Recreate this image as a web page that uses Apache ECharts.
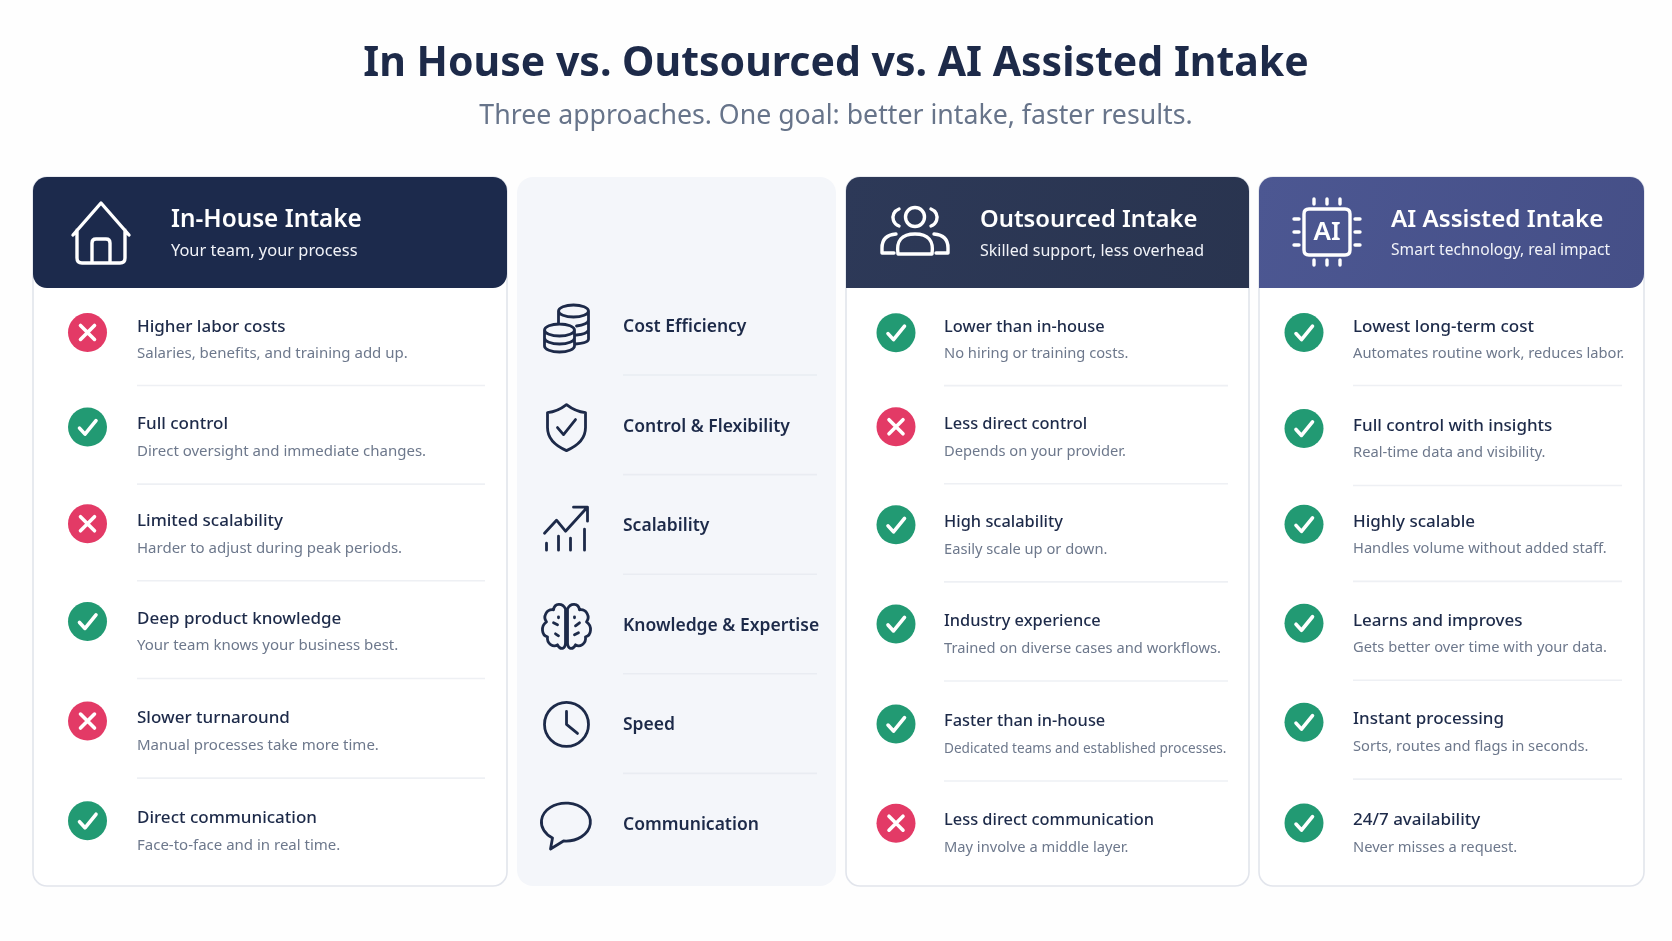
<!DOCTYPE html>
<html>
<head>
    <meta charset="utf-8">
    <title>In House vs. Outsourced vs. AI Assisted Intake</title>
    <script src="https://cdn.jsdelivr.net/npm/echarts@6/dist/echarts.min.js"></script>
    <style>
        html, body { margin: 0; padding: 0; background: #fefefe; }
        #main { width: 1672px; height: 941px; }
    </style>
</head>
<body>
    <div id="main"></div>
    <script>
        // chart text and values
        var pageTitle = 'In House vs. Outsourced vs. AI Assisted Intake';
        var pageSubtitle = 'Three approaches. One goal: better intake, faster results.';
        var criteria = ['Cost Efficiency', 'Control & Flexibility', 'Scalability', 'Knowledge & Expertise', 'Speed', 'Communication'];

        var inHouseName = 'In-House Intake';
        var inHouseTag = 'Your team, your process';
        var inHouseMarks = [0, 1, 0, 1, 0, 1];
        var inHouseTitles = ['Higher labor costs', 'Full control', 'Limited scalability', 'Deep product knowledge', 'Slower turnaround', 'Direct communication'];
        var inHouseNotes = ['Salaries, benefits, and training add up.', 'Direct oversight and immediate changes.', 'Harder to adjust during peak periods.', 'Your team knows your business best.', 'Manual processes take more time.', 'Face-to-face and in real time.'];

        var outsourcedName = 'Outsourced Intake';
        var outsourcedTag = 'Skilled support, less overhead';
        var outsourcedMarks = [1, 0, 1, 1, 1, 0];
        var outsourcedTitles = ['Lower than in-house', 'Less direct control', 'High scalability', 'Industry experience', 'Faster than in-house', 'Less direct communication'];
        var outsourcedNotes = ['No hiring or training costs.', 'Depends on your provider.', 'Easily scale up or down.', 'Trained on diverse cases and workflows.', 'Dedicated teams and established processes.', 'May involve a middle layer.'];

        var aiName = 'AI Assisted Intake';
        var aiTag = 'Smart technology, real impact';
        var aiMarks = [1, 1, 1, 1, 1, 1];
        var aiTitles = ['Lowest long-term cost', 'Full control with insights', 'Highly scalable', 'Learns and improves', 'Instant processing', '24/7 availability'];
        var aiNotes = ['Automates routine work, reduces labor.', 'Real-time data and visibility.', 'Handles volume without added staff.', 'Gets better over time with your data.', 'Sorts, routes and flags in seconds.', 'Never misses a request.'];

        var NAVY = '#1d2a49';
        var GREY = '#6d788c';
        var RULE = '#eef0f4';
        var FONT = '"Noto Sans", sans-serif';

        // rows are not evenly spaced in the layout, small shifts per row
        var inHouseShift = [0, -3, -4, -4, -2, 0];
        var outsourcedShift = [0, -4, -4, -3, -1, 0];
        var aiShift = [0, -2, -4, -3, -2, 1];
        var criteriaIconShift = [2, 1, 2, 1, -1, 1];

        // icons drawn around 0,0
        var iconPaths = [
            // coins
            'M-8,-18 A15,6 0 1 0 22,-18 A15,6 0 1 0 -8,-18 M22,-18 V10 Q22,14 9,15 M-8,-18 V-6 M22,-9 A15,6 0 0 1 10,-3 M22,1 A15,6 0 0 1 10,6 ' +
            'M-22,1 A15,6 0 1 0 8,1 A15,6 0 1 0 -22,1 M-22,1 V17 A15,6 0 0 0 8,17 V1 M-22,9 A15,6 0 0 0 8,9',
            // shield
            'M0,-23 Q9,-16 19,-15 V0 Q19,15 0,23 Q-19,15 -19,0 V-15 Q-9,-16 0,-23 Z M-9,0 L-3,7 L9,-8',
            // trend
            'M-22,5 L-10,-8 L-1,3 L19,-19 M7,-21 H21 V-7 M-20,15 V22 M-8,8 V22 M4,10 V22 M18,1 V22',
            // brain
            'M-1,-18 C-4,-24 -12,-24 -13,-17 C-20,-18 -24,-10 -20,-5 C-26,-1 -25,9 -19,10 C-20,17 -13,21 -9,18 C-6,24 -1,22 -1,16 Z ' +
            'M1,-18 C4,-24 12,-24 13,-17 C20,-18 24,-10 20,-5 C26,-1 25,9 19,10 C20,17 13,21 9,18 C6,24 1,22 1,16 Z ' +
            'M-13,-4 L-9,-2 M13,-4 L9,-1 M-8,9 L-11,7 M8,8 L12,6 M-8,-10 L-8,-9 M8,-10 L8,-9',
            // clock
            'M-22,0 A22,22 0 1 0 22,0 A22,22 0 1 0 -22,0 M0,-13 V0 L11,9',
            // speech bubble
            'M-3,15 A24.5,19 0 1 0 -14,12 L-16,23 Z'
        ];

        var housePath = 'M-28,2 L0,-30 L28,2 M-24,-3 V25 Q-24,30 -19,30 H19 Q24,30 24,25 V-3 M-9,29 V10 Q-9,6 -5,6 H5 Q9,6 9,10 V29';
        var peoplePath = 'M-9.5,-14 A9.5,9.5 0 1 0 9.5,-14 A9.5,9.5 0 1 0 -9.5,-14 M-17,23 Q-20,3 0,3 Q20,3 17,23 Z ' +
            'M-16,-22 A9,9 0 0 0 -16,-5 M16,-22 A9,9 0 0 1 16,-5 M-19,3 Q-33,4 -33,17 V22 H-21 M19,3 Q33,4 33,17 V22 H21';
        var chipPath = 'M-18,-23 H18 Q23,-23 23,-18 V18 Q23,23 18,23 H-18 Q-23,23 -23,18 V-18 Q-23,-23 -18,-23 Z ' +
            'M-13,-33 V-28 M0,-33 V-28 M13,-33 V-28 M-13,28 V33 M0,28 V33 M13,28 V33 ' +
            'M-33,-13 H-28 M-33,0 H-28 M-33,13 H-28 M28,-13 H33 M28,0 H33 M28,13 H33';

        // one card column: badge, title, note and rule per row
        function cardSeries(index, marks, titles, notes, shift, badgeX, textX, ruleEnd, titleSize, noteSize) {
            return {
                type: 'custom',
                xAxisIndex: index,
                yAxisIndex: index,
                silent: true,
                data: marks.map(function (m, i) { return [m, i]; }),
                renderItem: function (params, api) {
                    var i = api.value(1);
                    var ok = api.value(0) === 1;
                    var p = api.coord([badgeX, i]);
                    var left = api.coord([textX, i])[0];
                    var right = api.coord([ruleEnd, i])[0];
                    var y = p[1] + shift[i];
                    // first row text and rule sit closer to the badge
                    var titleY = i === 0 ? y - 5 : y - 2.5;
                    var noteY = i === 0 ? y + 21.4 : y + 24.8;
                    var ruleY = i === 0 ? y + 53 : y + 57;
                    var size = notes[i].length > 40 ? 13.6 : noteSize;
                    var kids = [
                        { type: 'circle', shape: { cx: p[0], cy: y, r: 19.5 }, style: { fill: ok ? '#229a73' : '#e33a66' } },
                        {
                            type: 'path', x: p[0], y: y,
                            shape: { pathData: ok ? 'M-8,1 L-2.5,7 L8.5,-6.5' : 'M-7,-7 L7,7 M7,-7 L-7,7' },
                            style: { fill: 'none', stroke: '#fff', lineWidth: 3.6, lineCap: 'round', lineJoin: 'round' }
                        },
                        { type: 'text', style: { x: left, y: titleY, text: titles[i], fill: NAVY, font: '500 ' + titleSize + 'px ' + FONT, textVerticalAlign: 'middle' } },
                        { type: 'text', style: { x: left, y: noteY, text: notes[i], fill: GREY, font: '400 ' + size + 'px ' + FONT, textVerticalAlign: 'middle' } }
                    ];
                    if (i < marks.length - 1) {
                        kids.push({ type: 'line', shape: { x1: left, y1: ruleY, x2: right, y2: ruleY }, style: { stroke: RULE, lineWidth: 1.6 } });
                    }
                    return { type: 'group', children: kids };
                }
            };
        }

        // middle column with the criteria names and their icons
        var criteriaSeries = {
            type: 'custom',
            xAxisIndex: 3,
            yAxisIndex: 3,
            silent: true,
            data: criteria.map(function (c, i) { return [0, i]; }),
            renderItem: function (params, api) {
                var i = api.value(1);
                var p = api.coord([566.5, i]);
                var left = api.coord([623, i])[0];
                var right = api.coord([817, i])[0];
                var kids = [
                    {
                        type: 'path', x: p[0], y: p[1] + 2 + criteriaIconShift[i],
                        shape: { pathData: iconPaths[i] },
                        style: { fill: 'none', stroke: NAVY, lineWidth: 2.8, lineCap: 'round', lineJoin: 'round' }
                    },
                    { type: 'text', style: { x: left, y: p[1] + 2, text: criteria[i], fill: NAVY, font: '600 17.5px ' + FONT, textVerticalAlign: 'middle' } }
                ];
                if (i < criteria.length - 1) {
                    kids.push({ type: 'line', shape: { x1: left, y1: p[1] + 50, x2: right, y2: p[1] + 50 }, style: { stroke: '#e9ecf2', lineWidth: 1.6 } });
                }
                return { type: 'group', children: kids };
            }
        };

        // white line icons on the dark headers
        var headerIconSeries = {
            type: 'custom',
            coordinateSystem: 'none',
            silent: true,
            data: [0, 1, 2],
            renderItem: function (params, api) {
                var spots = [[101, 233, housePath], [915, 231, peoplePath], [1327, 232, chipPath]];
                var s = spots[params.dataIndex];
                var kids = [{
                    type: 'path', x: s[0], y: s[1],
                    shape: { pathData: s[2] },
                    style: { fill: 'none', stroke: '#fff', lineWidth: 3.4, lineCap: 'round', lineJoin: 'round' }
                }];
                if (params.dataIndex === 2) {
                    kids.push({ type: 'text', style: { x: s[0], y: s[1] + 1, text: 'AI', fill: '#fff', font: '600 26px ' + FONT, textAlign: 'center', textVerticalAlign: 'middle' } });
                }
                return { type: 'group', children: kids };
            }
        };

        function panel(x, w, fill, radius, name, tag, textX, nameSize, tagSize) {
            return [
                { type: 'rect', shape: { x: x, y: 177, width: w, height: 709, r: 14 }, style: { fill: '#fff', stroke: '#e2e5ec', lineWidth: 1.6 } },
                { type: 'rect', shape: { x: x, y: 177, width: w, height: 111, r: radius }, style: { fill: fill } },
                { type: 'text', style: { x: textX, y: 220, text: name, fill: '#fff', font: '600 ' + nameSize + 'px ' + FONT, textVerticalAlign: 'middle' } },
                { type: 'text', style: { x: textX, y: 251, text: tag, fill: '#f1f3f8', font: '400 ' + tagSize + 'px ' + FONT, textVerticalAlign: 'middle' } }
            ];
        }

        var chartDom = document.getElementById('main');
        var myChart = echarts.init(chartDom);

        var graphics = [
            { type: 'text', style: { x: 836, y: 64, text: pageTitle, fill: NAVY, font: '700 41px ' + FONT, textAlign: 'center', textVerticalAlign: 'middle' } },
            { type: 'text', style: { x: 836, y: 116, text: pageSubtitle, fill: '#67748a', font: '400 26.7px ' + FONT, textAlign: 'center', textVerticalAlign: 'middle' } },
            { type: 'rect', shape: { x: 517, y: 177, width: 319, height: 709, r: 16 }, style: { fill: '#f4f6fa' } }
        ].concat(
            panel(33, 474, '#1c2a4c', [14, 14, 14, 14], inHouseName, inHouseTag, 171, 24.3, 16.4),
            panel(846, 403, new echarts.graphic.LinearGradient(0, 0, 1, 1, [{ offset: 0, color: '#2d3958' }, { offset: 1, color: '#29344f' }]), [14, 14, 0, 0], outsourcedName, outsourcedTag, 980, 23.8, 16),
            panel(1259, 385, new echarts.graphic.LinearGradient(0, 0, 1, 1, [{ offset: 0, color: '#4c5792' }, { offset: 1, color: '#454f87' }]), [14, 14, 14, 0], aiName, aiTag, 1391, 24.2, 15.6)
        );

        // grids are one per column, the x axis is in page pixels of that column
        function grid(left, right, top, height) {
            return { left: left, width: right - left, top: top, height: height };
        }
        function xAxis(i, min, max) {
            return { type: 'value', gridIndex: i, min: min, max: max, show: false };
        }
        function yAxis(i) {
            return { type: 'category', gridIndex: i, inverse: true, data: criteria, show: false };
        }

        var option = {
            animation: false,
            backgroundColor: '#fefefe',
            tooltip: { show: false },
            graphic: { elements: graphics },
            grid: [
                grid(33, 507, 283.6, 586),
                grid(846, 1249, 283.6, 588.6),
                grid(1259, 1644, 283.6, 587.4),
                grid(517, 836, 275.2, 597.6)
            ],
            xAxis: [xAxis(0, 33, 507), xAxis(1, 846, 1249), xAxis(2, 1259, 1644), xAxis(3, 517, 836)],
            yAxis: [yAxis(0), yAxis(1), yAxis(2), yAxis(3)],
            series: [
                cardSeries(0, inHouseMarks, inHouseTitles, inHouseNotes, inHouseShift, 87.5, 137, 485, 17, 15),
                cardSeries(1, outsourcedMarks, outsourcedTitles, outsourcedNotes, outsourcedShift, 896, 944, 1228, 16.4, 14.7),
                cardSeries(2, aiMarks, aiTitles, aiNotes, aiShift, 1304, 1353, 1622, 17, 14.7),
                criteriaSeries,
                headerIconSeries
            ]
        };
        myChart.setOption(option);
    </script>
</body>
</html>
